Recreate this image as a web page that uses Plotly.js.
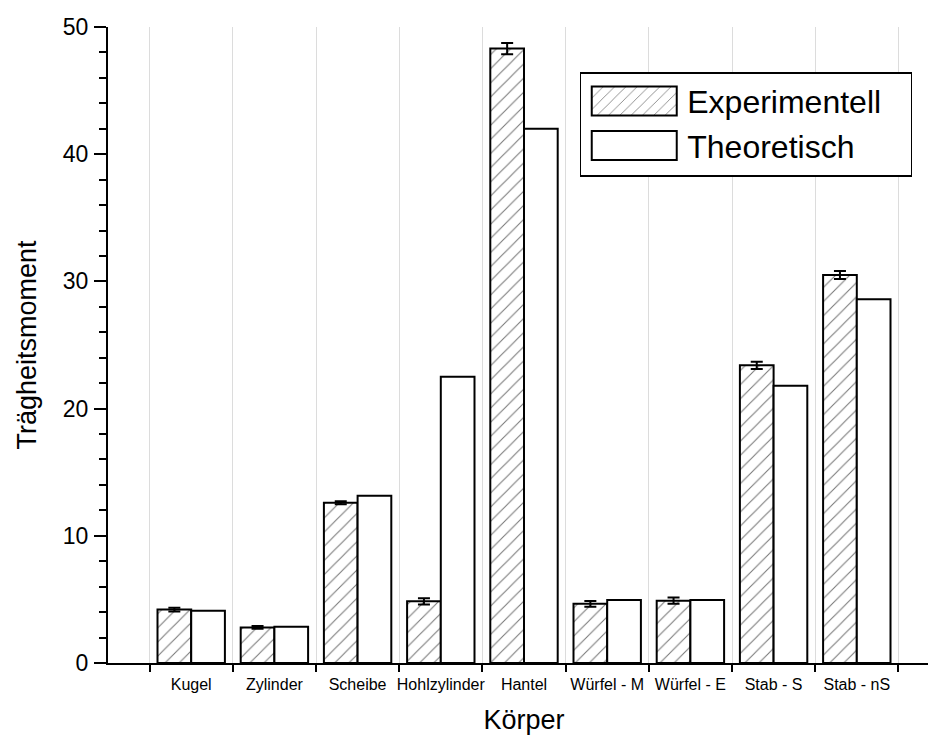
<!DOCTYPE html>
<html><head><meta charset="utf-8">
<script src="https://cdn.plot.ly/plotly-3.0.1.min.js"></script>
<style>html,body{margin:0;padding:0;overflow:hidden;background:#fff}#chart{width:940px;height:742px}</style>
</head><body><div id="chart"></div>
<script>
const categories = ['Kugel','Zylinder','Scheibe','Hohlzylinder','Hantel','Würfel - M','Würfel - E','Stab - S','Stab - nS'];
const experimentell = [4.2, 2.8, 12.6, 4.85, 48.3, 4.65, 4.9, 23.4, 30.5];
const experimentellFehler = [0.15, 0.1, 0.12, 0.25, 0.45, 0.22, 0.25, 0.28, 0.32];
const theoretisch = [4.1, 2.85, 13.15, 22.5, 42.0, 4.95, 4.95, 21.8, 28.6];
const yTickVals = [0, 10, 20, 30, 40, 50];
const seriesNames = ['Experimentell', 'Theoretisch'];
const xTitle = 'Körper';
const yTitle = 'Trägheitsmoment';

const FONT = 'Liberation Sans, Arial, sans-serif';
const centers = categories.map((_, i) => i);
const boundaries = categories.map((_, i) => i - 0.5).concat([categories.length - 0.5]);
const xr = [-1, categories.length];

const data = [
  {type:'bar', name:seriesNames[0], x:categories, y:experimentell,
   marker:{color:'#ffffff', line:{color:'#000', width:2},
           pattern:{shape:'/', fgcolor:'#777', bgcolor:'#fff', size:10, solidity:0.1}},
   error_y:{type:'data', array:experimentellFehler, visible:true, color:'#000', thickness:2, width:6}},
  {type:'bar', name:seriesNames[1], x:categories, y:theoretisch,
   marker:{color:'#ffffff', line:{color:'#000', width:2}}}
];

const layout = {
  width:940, height:742,
  margin:{l:108, r:0, t:27, b:79},
  paper_bgcolor:'#fff', plot_bgcolor:'#fff',
  font:{family:FONT, color:'#000'},
  barmode:'group', bargap:0.19, bargroupgap:0,
  showlegend:true,
  legend:{x:0.567, y:0.929, xanchor:'left', yanchor:'top', bgcolor:'#fff',
          bordercolor:'#000', borderwidth:1.5, font:{size:32, family:FONT}, itemwidth:96,
          traceorder:'normal'},
  xaxis:{type:'category', categoryorder:'array', categoryarray:categories, range:xr,
         tickson:'boundaries', ticks:'outside', ticklen:7, tickwidth:2, tickcolor:'#000',
         tickangle:0, ticklabelstandoff:6,
         showgrid:true, gridcolor:'#dcdcdc', gridwidth:1,
         showline:true, linewidth:2, linecolor:'#000', zeroline:false,
         tickfont:{size:16, family:FONT},
         title:{text:xTitle, font:{size:27, family:FONT}, standoff:18}},
  xaxis2:{overlaying:'x', anchor:'y', side:'bottom', range:xr, tickmode:'array', tickvals:boundaries,
          ticks:'inside', ticklen:6, tickwidth:2, tickcolor:'#000', showticklabels:false,
          showgrid:false, zeroline:false, showline:false},
  xaxis3:{overlaying:'x', anchor:'y', side:'top', range:xr, tickmode:'array', tickvals:centers,
          ticks:'inside', ticklen:12, tickwidth:2, tickcolor:'#000', showticklabels:false,
          showgrid:false, zeroline:false, showline:true, linewidth:2, linecolor:'#000'},
  xaxis4:{overlaying:'x', anchor:'y', side:'top', range:xr, tickmode:'array', tickvals:boundaries,
          ticks:'inside', ticklen:6, tickwidth:2, tickcolor:'#000', showticklabels:false,
          showgrid:false, zeroline:false, showline:false},
  yaxis:{range:[0,50], tickmode:'array', tickvals:yTickVals, ticks:'outside', ticklen:12, tickwidth:2,
         tickcolor:'#000', minor:{dtick:2, ticks:'outside', ticklen:7, tickwidth:2, tickcolor:'#000', showgrid:false},
         showgrid:false, zeroline:false, showline:true, linewidth:2, linecolor:'#000',
         tickfont:{size:23, family:FONT}, ticklabelstandoff:1,
         title:{text:yTitle, font:{size:27, family:FONT}, standoff:18}}
};

const gd = document.getElementById('chart');
Plotly.newPlot(gd, data, layout, {staticPlot:true}).then(() => {
  gd.querySelectorAll('.legend .legendpoints path').forEach(p => {
    p.setAttribute('d', 'M42.5,14.5H-42.5V-14.5H42.5Z');
  });
  const bg = gd.querySelector('.legend rect.bg');
  if (bg) { bg.setAttribute('width', 331); bg.setAttribute('height', 103); }
});
</script>
</body></html>
